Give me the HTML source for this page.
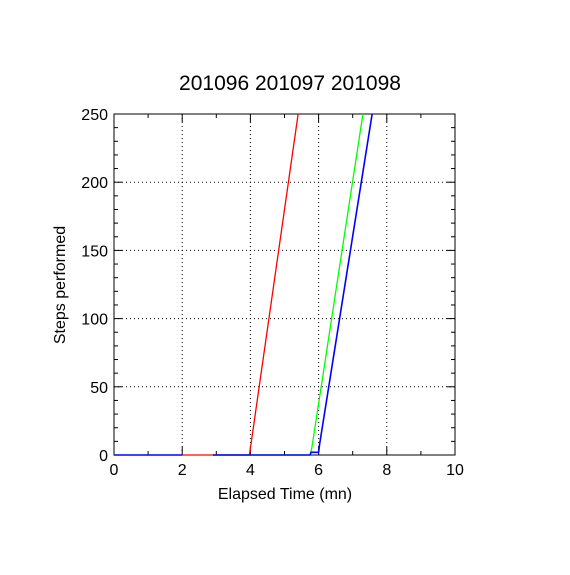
<!DOCTYPE html>
<html><head><meta charset="utf-8"><style>
body{margin:0;background:#fff}
svg text{font-family:"Liberation Sans",sans-serif;fill:#000}
</style></head><body>
<svg id="chart" width="570" height="570" xmlns="http://www.w3.org/2000/svg">
<rect width="570" height="570" fill="#fff"/>
<text x="290" y="90" font-size="21" text-anchor="middle">201096 201097 201098</text>
<g id="grid"></g><g id="axes"></g><g id="series"></g>
<text x="285" y="499" font-size="16" text-anchor="middle">Elapsed Time (mn)</text>
<text transform="translate(65,285) rotate(-90)" font-size="16" text-anchor="middle">Steps performed</text>
</svg>
<script>
const xTicks=[0,2,4,6,8,10];
const yTicks=[0,50,100,150,200,250];
const seriesNames=['201096','201097','201098'];
const seriesColors=['#ff0000','#00ff00','#0000ff'];
const red=[[2,0],[3.97,0],[4.0,5],[5.4,250]];
const green=[[2.9,0],[5.75,0],[5.8,5],[7.3,250]];
const blueStart=[[0,0],[2,0]];
const blue=[[2.9,0],[5.75,0],[5.78,2],[6.0,2],[6.03,8],[7.57,250]];
const L=114,R=455,T=114,B=455;
const X=v=>L+(v-0)/10*(R-L);
const Y=v=>B-(v-0)/250*(B-T);
const NS='http://www.w3.org/2000/svg';
function mk(tag,parent,attrs){const e=document.createElementNS(NS,tag);for(const k in attrs)e.setAttribute(k,attrs[k]);parent.appendChild(e);return e;}
const grid=document.getElementById('grid'),axes=document.getElementById('axes'),ser=document.getElementById('series');
xTicks.forEach(v=>{
  if(v>0&&v<10){const l=mk('line',grid,{x1:X(v),x2:X(v),y1:T,y2:B,stroke:'#000','stroke-dasharray':'1,3'});
  }
  const t=mk('text',axes,{x:X(v),y:B+20,'font-size':16,'text-anchor':'middle'});t.textContent=v;
  
});
yTicks.forEach(v=>{
  if(v>0&&v<250){const l=mk('line',grid,{x1:L,x2:R,y1:Y(v),y2:Y(v),stroke:'#000','stroke-dasharray':'1,3'});
  }
  const t=mk('text',axes,{x:L-6,y:Y(v)+6,'font-size':16,'text-anchor':'end'});t.textContent=v;
  
});
for(let v=0;v<=10;v+=1){const len=(v%2===0)?8:4;
  mk('line',axes,{x1:X(v),x2:X(v),y1:B,y2:B-len,stroke:'#000'});mk('line',axes,{x1:X(v),x2:X(v),y1:T,y2:T+len,stroke:'#000'});}
for(let v=0;v<=250;v+=10){const len=(v%50===0)?8:4;
  mk('line',axes,{x1:L,x2:L+len,y1:Y(v),y2:Y(v),stroke:'#000'});mk('line',axes,{x1:R,x2:R-len,y1:Y(v),y2:Y(v),stroke:'#000'});}
const fr=mk('rect',axes,{x:L,y:T,width:R-L,height:B-T,fill:'none',stroke:'#000'});

const p0=mk('polyline',ser,{points:blueStart.map(q=>X(q[0])+','+Y(q[1])).join(' '),fill:'none',stroke:seriesColors[2],'stroke-width':1.6});

[red,green,blue].forEach((d,i)=>{
  const p=mk('polyline',ser,{points:d.map(q=>X(q[0])+','+Y(q[1])).join(' '),fill:'none',stroke:seriesColors[i],'stroke-width':i===2?1.6:1.3});
  
});
</script>
</body></html>
